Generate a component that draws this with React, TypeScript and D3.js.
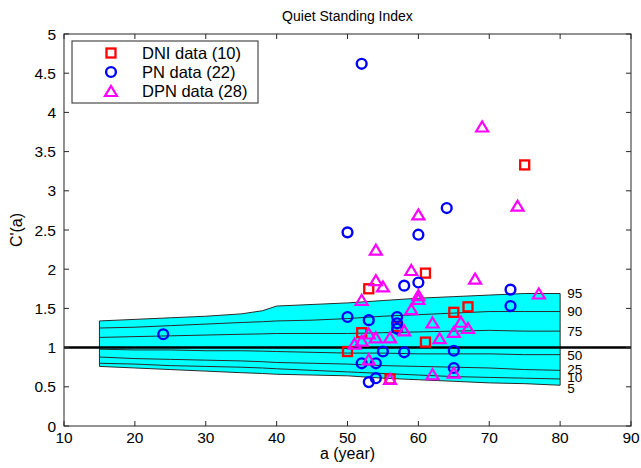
import React from "react";
import * as d3 from "d3";

// Percentile band ages and values
const bandAges = [15, 20, 25, 30, 35, 38, 40, 45, 50, 55, 60, 65, 70, 75, 80];
const p95 = [1.34, 1.36, 1.38, 1.40, 1.43, 1.47, 1.53, 1.55, 1.57, 1.60, 1.63, 1.65, 1.67, 1.69, 1.69];
const p90 = [1.25, 1.26, 1.28, 1.30, 1.32, 1.33, 1.34, 1.35, 1.37, 1.40, 1.42, 1.44, 1.46, 1.46, 1.46];
const p75 = [1.13, 1.14, 1.15, 1.16, 1.17, 1.175, 1.18, 1.18, 1.18, 1.19, 1.20, 1.21, 1.22, 1.21, 1.21];
const p50 = [0.98, 0.97, 0.97, 0.96, 0.96, 0.955, 0.95, 0.94, 0.93, 0.93, 0.92, 0.92, 0.92, 0.91, 0.91];
const p25 = [0.88, 0.86, 0.85, 0.84, 0.83, 0.82, 0.81, 0.80, 0.79, 0.77, 0.76, 0.75, 0.74, 0.72, 0.71];
const p10 = [0.80, 0.79, 0.77, 0.76, 0.75, 0.74, 0.73, 0.71, 0.69, 0.67, 0.65, 0.63, 0.62, 0.61, 0.60];
const p5 = [0.76, 0.74, 0.72, 0.70, 0.68, 0.67, 0.66, 0.65, 0.64, 0.61, 0.59, 0.57, 0.55, 0.54, 0.52];
const percentileLabels = ["95", "90", "75", "50", "25", "10", "5"];

// Patient groups: [age, C'(a)]
const dniData: [number, number][] = [
  [75, 3.33], [61, 1.95], [53, 1.75], [52, 1.19], [50, 0.95],
  [56, 0.6], [61, 1.07], [65, 1.45], [67, 1.52], [57, 1.27],
];
const pnData: [number, number][] = [
  [52, 4.62], [50, 2.47], [64, 2.78], [60, 2.44], [58, 1.79], [60, 1.83],
  [73, 1.74], [73, 1.53], [50, 1.39], [53, 1.35], [57, 1.39], [57, 1.31],
  [57, 1.24], [55, 0.95], [58, 0.94], [65, 0.96], [52, 0.8], [54, 0.8],
  [65, 0.74], [54, 0.61], [53, 0.56], [24, 1.17],
];
const dpnData: [number, number][] = [
  [69, 3.82], [74, 2.81], [60, 2.7], [54, 2.25], [59, 1.99], [55, 1.78],
  [54, 1.86], [52, 1.61], [60, 1.67], [60, 1.62], [68, 1.88], [77, 1.69],
  [59, 1.49], [62, 1.32], [66, 1.33], [65, 1.2], [67, 1.25], [63, 1.12],
  [53, 1.18], [54, 1.13], [56, 1.13], [58, 1.22], [51, 1.05], [52, 1.09],
  [53, 0.85], [56, 0.6], [62, 0.66], [65, 0.68],
];

const legendLabels = ["DNI data (10)", "PN data (22)", "DPN data (28)"];
const xTicks = [10, 20, 30, 40, 50, 60, 70, 80, 90];
const yTicks = [0, 0.5, 1, 1.5, 2, 2.5, 3, 3.5, 4, 4.5, 5];

const W = 641;
const H = 468;
const left = 64;
const right = 631;
const top = 34;
const bottom = 426;
const FONT = "Liberation Sans, Arial, Helvetica, sans-serif";
const AX = "#262626";
// small vertical nudges so the crowded low-percentile labels stay legible
const labelNudge = [0, 0, 0, 0, -1, -2, 2.5];

export default function App() {
  const x = d3.scaleLinear().domain([10, 90]).range([left, right]);
  const y = d3.scaleLinear().domain([0, 5]).range([bottom, top]);

  const curves = [p95, p90, p75, p50, p25, p10, p5];
  const line = d3
    .line<number>()
    .x((_, i) => x(bandAges[i]))
    .y((v) => y(v));
  const area = d3
    .area<number>()
    .x((_, i) => x(bandAges[i]))
    .y0((_, i) => y(p5[i]))
    .y1((v) => y(v));

  const tri = (cx: number, cy: number) => {
    const hw = 6;
    const hh = 5;
    return `M${cx},${cy - hh}L${cx + hw},${cy + hh}L${cx - hw},${cy + hh}Z`;
  };

  const lastAge = bandAges[bandAges.length - 1];

  return (
    <svg
      width={W}
      height={H}
      style={{ position: "absolute", left: 0, top: 0, background: "#fff" }}
      fontFamily={FONT}
    >
      <rect x={0} y={0} width={W} height={H} fill="#fff" />

      {/* reference band */}
      <path d={area(p95) ?? ""} fill="#00ffff" stroke="none" />
      {curves.map((c, i) => (
        <path key={i} d={line(c) ?? ""} fill="none" stroke="#2a2a2a" strokeWidth={1} />
      ))}
      <line x1={x(bandAges[0])} x2={x(bandAges[0])} y1={y(p95[0])} y2={y(p5[0])} stroke="#2a2a2a" strokeWidth={1} />
      <line x1={x(lastAge)} x2={x(lastAge)} y1={y(p95[p95.length - 1])} y2={y(p5[p5.length - 1])} stroke="#2a2a2a" strokeWidth={1} />
      {curves.map((c, i) => (
        <text key={i} x={x(lastAge) + 7} y={y(c[c.length - 1]) + labelNudge[i]} dy="0.36em" fontSize={13.5} fill="#000">
          {percentileLabels[i]}
        </text>
      ))}

      {/* unity reference */}
      <line x1={left} x2={right} y1={y(1)} y2={y(1)} stroke="#000" strokeWidth={2.5} />

      {/* data markers */}
      {dniData.map(([a, v], i) => (
        <rect key={`s${i}`} x={x(a) - 4.5} y={y(v) - 4.5} width={9} height={9} fill="none" stroke="#ff0000" strokeWidth={2.3} />
      ))}
      {pnData.map(([a, v], i) => (
        <circle key={`c${i}`} cx={x(a)} cy={y(v)} r={4.9} fill="none" stroke="#0000ff" strokeWidth={2.4} />
      ))}
      {dpnData.map(([a, v], i) => (
        <path key={`t${i}`} d={tri(x(a), y(v))} fill="none" stroke="#ff00ff" strokeWidth={2.2} strokeLinejoin="miter" />
      ))}

      {/* axes box */}
      <rect x={left} y={top} width={right - left} height={bottom - top} fill="none" stroke={AX} strokeWidth={1} />
      {xTicks.map((t) => (
        <g key={`x${t}`}>
          <line x1={x(t)} x2={x(t)} y1={bottom} y2={bottom - 5} stroke={AX} />
          <line x1={x(t)} x2={x(t)} y1={top} y2={top + 5} stroke={AX} />
          <text x={x(t)} y={bottom + 17} textAnchor="middle" fontSize={15.5} fill="#000">
            {t}
          </text>
        </g>
      ))}
      {yTicks.map((t) => (
        <g key={`y${t}`}>
          <line x1={left} x2={left + 5} y1={y(t)} y2={y(t)} stroke={AX} />
          <line x1={right} x2={right - 5} y1={y(t)} y2={y(t)} stroke={AX} />
          <text x={left - 8} y={y(t)} dy="0.36em" textAnchor="end" fontSize={15.5} fill="#000">
            {t}
          </text>
        </g>
      ))}

      {/* titles */}
      <text x={(left + right) / 2} y={21} textAnchor="middle" fontSize={14} fill="#000">
        Quiet Standing Index
      </text>
      <text x={(left + right) / 2} y={459} textAnchor="middle" fontSize={16} fill="#000">
        a (year)
      </text>
      <text transform={`translate(22,${(top + bottom) / 2}) rotate(-90)`} textAnchor="middle" fontSize={16} fill="#000">
        C'(a)
      </text>

      {/* legend */}
      <g>
        <rect x={72} y={41} width={186} height={62} fill="#fff" stroke={AX} strokeWidth={1} />
        <rect x={111 - 4.5} y={53 - 4.5} width={9} height={9} fill="none" stroke="#ff0000" strokeWidth={2.3} />
        <circle cx={111} cy={72} r={4.9} fill="none" stroke="#0000ff" strokeWidth={2.4} />
        <path d={tri(111, 91)} fill="none" stroke="#ff00ff" strokeWidth={2.2} />
        {legendLabels.map((l, i) => (
          <text key={l} x={142} y={[53, 72, 91][i]} dy="0.36em" fontSize={16.5} fill="#000">
            {l}
          </text>
        ))}
      </g>
    </svg>
  );
}
